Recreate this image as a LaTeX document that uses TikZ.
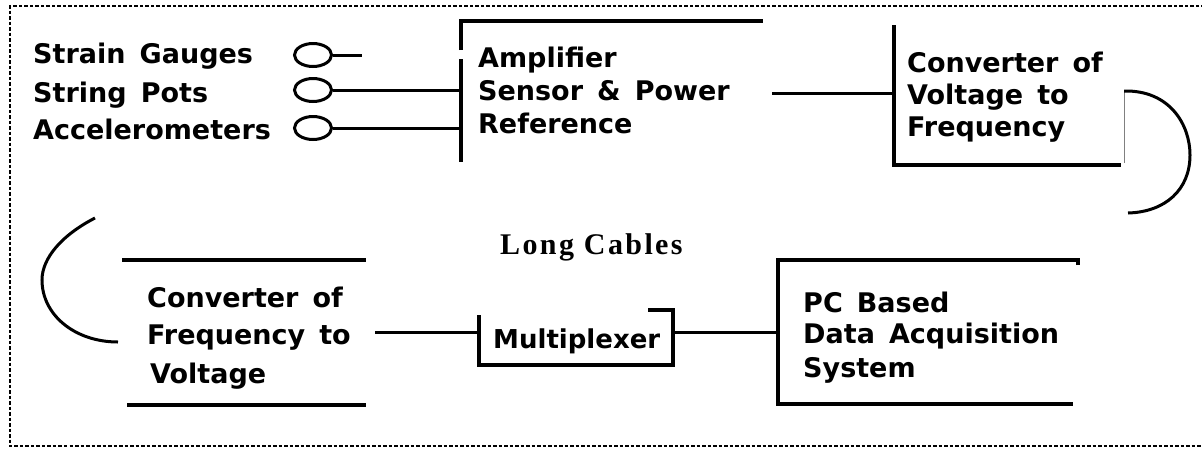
\documentclass[tikz,border=0pt]{standalone}
\usepackage{fontspec}
\usetikzlibrary{shapes.geometric}
\newfontfamily\labfont{DejaVu Sans}[WordSpace=1.5]
\newfontfamily\capfont{Liberation Serif}[LetterSpace=8]
\begin{document}
\begin{tikzpicture}[x=1pt,y=-1pt,
  lbl/.style={anchor=base west, inner sep=0pt, font=\labfont\bfseries\fontsize{27}{33}\selectfont},
  boxline/.style={line width=3.6pt},
  wire/.style={line width=3pt},
  oval/.style={ellipse, draw, line width=3pt, minimum width=37pt, minimum height=23pt, inner sep=0pt},
  border/.style={line width=2.4pt, dash pattern=on 3.5pt off 2pt}]
\useasboundingbox (0,0) rectangle (1202,448);
% border
\coordinate (b1) at (1210,6);
\coordinate (b2) at (10,6);
\coordinate (b3) at (10,446);
\coordinate (b4) at (1210,446);
\draw[border] (b1) -- (b2) -- (b3) -- (b4);
% sensors
\node[lbl] (tsg) at (33,63) {Strain Gauges};
\node[lbl] (tsp) at (33,102) {String Pots};
\node[lbl] (tac) at (33,139) {Accelerometers};
\node[oval] (o1) at (313,55) {};
\node[oval] (o2) at (313,90) {};
\node[oval] (o3) at (313,128) {};
\coordinate (sgend) at (362,55);
% amplifier
\coordinate (a1) at (461,21);
\coordinate (a2) at (763,21);
\coordinate (a3) at (461,50);
\coordinate (a4) at (461,59);
\coordinate (a5) at (461,162);
\draw[boxline] (a3) -- (a1) -- (a2);
\draw[boxline] (a4) -- (a5);
\draw[wire] (o1.east) -- (sgend);
\draw[wire] (o2.east) -- (o2.east -| a1);
\draw[wire] (o3.east) -- (o3.east -| a1);
\node[lbl] (amp1) at (478,67) {Amplifier};
\node[lbl] (amp2) at (478,100) {Sensor \& Power};
\node[lbl] (amp3) at (478,133) {Reference};
% converter V to F
\coordinate (aout) at (772,93);
\coordinate (c1) at (894,25);
\coordinate (c2) at (894,165);
\coordinate (c3) at (1121,165);
\draw[wire] (aout) -- (aout -| c1);
\draw[boxline] (c1) -- (c2) -- (c3);
\node[lbl] (vf1) at (907,72) {Converter of};
\node[lbl] (vf2) at (907,104) {Voltage to};
\node[lbl] (vf3) at (907,136) {Frequency};
\coordinate (g1) at (1124,91);
\coordinate (g2) at (1124,163);
\draw[gray, line width=1pt] (g1) -- (g2);
\coordinate (arcR) at (1128,213);
\draw[wire] (g1) .. controls (1170,90) and (1190,125) .. (1190,155) .. controls (1190,190) and (1165,212) .. (arcR);
% long cables
\node[anchor=base west, inner sep=0pt, font=\capfont\bfseries\fontsize{30}{36}\selectfont] (lc) at (500,254) {Long Cables};
% converter F to V
\coordinate (arcL1) at (95,218);
\coordinate (arcL2) at (118,342);
\draw[wire] (arcL1) .. controls (62,235) and (42,258) .. (42,280) .. controls (42,315) and (75,342) .. (arcL2);
\coordinate (f1) at (122,260);
\coordinate (f2) at (366,260);
\coordinate (f3) at (127,405);
\coordinate (f4) at (366,405);
\draw[boxline] (f1) -- (f2);
\draw[boxline] (f3) -- (f4);
\node[lbl] (fv1) at (147,307) {Converter of};
\node[lbl] (fv2) at (147,344) {Frequency to};
\node[lbl] (fv3) at (150,383) {Voltage};
% multiplexer
\coordinate (fout) at (375,332);
\coordinate (m1) at (479,315);
\coordinate (m2) at (479,365);
\coordinate (m3) at (673,365);
\coordinate (m4) at (673,310);
\coordinate (m5) at (648,310);
\draw[boxline] (m1) -- (m2) -- (m3) -- (m4) -- (m5);
\draw[wire] (fout) -- (fout -| m1);
\node[lbl, font=\labfont\bfseries\fontsize{26}{30}\selectfont] (mux) at (493,348) {Multiplexer};
\coordinate (mout) at (673,332);
% PC
\coordinate (p0) at (1078,265);
\coordinate (p1) at (1078,260);
\coordinate (p2) at (778,260);
\coordinate (p3) at (778,404);
\coordinate (p4) at (1073,404);
\draw[boxline] (p0) -- (p1) -- (p2) -- (p3) -- (p4);
\draw[wire] (mout) -- (mout -| p2);
\node[lbl] (pc1) at (803,312) {PC Based};
\node[lbl] (pc2) at (803,343) {Data Acquisition};
\node[lbl] (pc3) at (803,377) {System};
\end{tikzpicture}
\end{document}
